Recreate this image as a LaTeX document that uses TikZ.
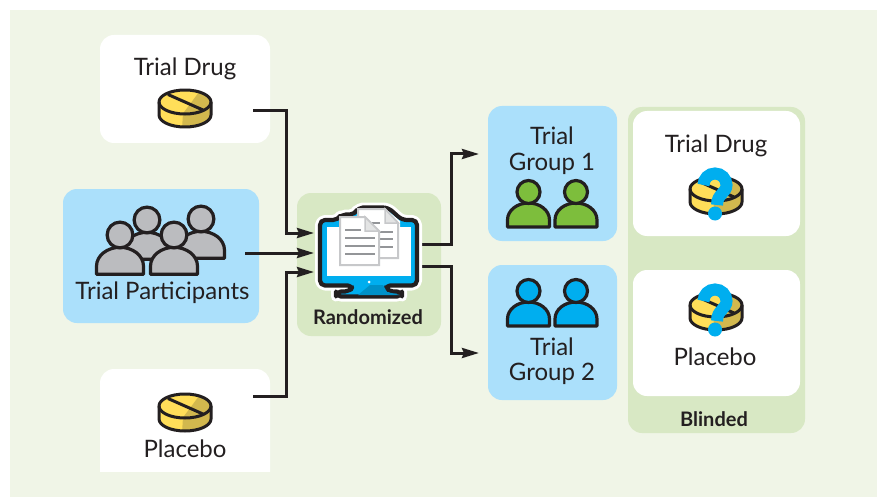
\documentclass[tikz,border=0pt]{standalone}
\usepackage{fontspec}
\setmainfont{Lato}
\usetikzlibrary{arrows.meta}
\definecolor{bgc}{HTML}{F0F5E7}
\definecolor{paleblue}{HTML}{ABE0FB}
\definecolor{palegreen}{HTML}{D8E8C4}
\definecolor{ink}{HTML}{231F20}
\definecolor{pillc}{HTML}{FFDE59}
\definecolor{pilld}{HTML}{D2B84E}
\definecolor{greyp}{HTML}{BBBCBF}
\definecolor{greenp}{HTML}{7DBE3C}
\definecolor{bluep}{HTML}{00AEEF}
\definecolor{blued}{HTML}{0091C8}
\definecolor{docline}{HTML}{939598}
\definecolor{docedge}{HTML}{C7C8CA}
\tikzset{
  panel/.style={rounded corners=14pt,inner sep=0pt,outer sep=0pt,draw=none},
  lbl/.style={font=\fontsize{24}{27}\selectfont,text=ink,anchor=base,inner sep=0pt},
  blbl/.style={font=\fontsize{20}{23}\selectfont\bfseries,text=ink,anchor=base,inner sep=0pt},
  conn/.style={draw=ink,line width=3pt,miter limit=10},
  arr/.style={conn,-{Stealth[length=17pt,width=10pt,inset=2pt]}},
  pics/pill/.style={code={
    \begin{scope}
      \clip (-26,0) -- (-26,13) arc[start angle=180,end angle=0,x radius=26,y radius=12] -- (26,0) arc[start angle=0,end angle=-180,x radius=26,y radius=12] -- cycle;
      \fill[pillc] (-28,-14) rectangle (28,27);
      \fill[pilld] (-3,27) -- (-2,11.5) -- (17,-14) -- (28,-14) -- (28,27) -- cycle;
    \end{scope}
    \draw[ink,line width=3pt] (-26,0) arc[start angle=180,end angle=0,x radius=26,y radius=12];
    \draw[ink,line width=3pt,line join=round] (-26,0) arc[start angle=180,end angle=360,x radius=26,y radius=12] -- (26,13) arc[start angle=0,end angle=180,x radius=26,y radius=12] -- cycle;
    \draw[ink,line width=3pt] (-17,-7.5) -- (18,8);
  }},
  pics/query/.style={code={
    \draw[bluep,line width=12pt] (-12.5,-4) arc[start angle=180,end angle=360,radius=11.5]
       .. controls (10.5,4) and (1,5) .. (1,16);
    \fill[bluep] (-1,24.5) circle[radius=7];
  }},
  pics/person/.style={code={
    \draw[ink,line width=3.2pt,fill=#1,line join=round]
      (-21,35) -- (-21,28) .. controls (-21,18) and (-11,11) .. (0,11)
      .. controls (11,11) and (21,18) .. (21,28) -- (21,35) -- cycle;
    \draw[ink,line width=3.2pt,fill=#1] (0,0) circle[radius=11.5];
  }},
}
\begin{document}
\begin{tikzpicture}[x=1pt,y=-1pt]
\useasboundingbox (0,0) rectangle (882,497);
\fill[white] (0,0) rectangle (882,497);
\fill[bgc] (10,10) rectangle (877,497);
% panels
\node[panel,fill=white,minimum width=170pt,minimum height=108pt] (drugbox) at (185,89) {};
\node[panel,fill=paleblue,minimum width=196pt,minimum height=134pt] (partbox) at (161,256) {};
\node[panel,fill=white,minimum width=170pt,minimum height=120pt] (placebobox) at (185,429) {};
\fill[bgc] (95,472) rectangle (275,495);
\node[panel,fill=palegreen,minimum width=144pt,minimum height=143pt] (randbox) at (369,264.5) {};
\node[panel,fill=paleblue,minimum width=129pt,minimum height=135pt] (g1box) at (552.5,173.5) {};
\node[panel,fill=paleblue,minimum width=129pt,minimum height=135pt] (g2box) at (552.5,332.5) {};
\node[panel,fill=palegreen,minimum width=177pt,minimum height=326pt] (blindbox) at (716.5,270) {};
\node[panel,fill=white,minimum width=167pt,minimum height=125pt] (bdrugbox) at (716.5,173.5) {};
\node[panel,fill=white,minimum width=167pt,minimum height=126pt] (bplacebox) at (716.5,333) {};
% connector free ends
\coordinate (drugout) at (253,111);
\coordinate (partout) at (245,253);
\coordinate (placout) at (253,396);
\coordinate (in1) at (314,233);
\coordinate (in2) at (314,253);
\coordinate (in3) at (314,272);
\coordinate (out1) at (422,244);
\coordinate (out2) at (422,266);
\coordinate (g1in) at (479,154);
\coordinate (g2in) at (479,353);
\draw[arr] (drugout) -| (286,233) -- (in1);
\draw[arr] (partout) -- (in2);
\draw[arr] (placout) -| (286,272) -- (in3);
\draw[arr] (out1) -| (451,154) -- (g1in);
\draw[arr] (out2) -| (451,353) -- (g2in);
% pills
\pic at (185,102) {pill};
\pic at (185,406) {pill};
\pic at (716,189) {pill};
\pic at (716,189) {query};
\pic at (716,305) {pill};
\pic at (716,305) {query};
% people
\pic[scale=1.12] at (147,220) {person=greyp};
\pic[scale=1.12] at (201,219) {person=greyp};
\pic[scale=1.12] at (120,235) {person=greyp};
\pic[scale=1.12] at (174,235) {person=greyp};
\pic at (528.5,192) {person=greenp};
\pic at (576,192) {person=greenp};
\pic at (528.5,291) {person=bluep};
\pic at (576,291) {person=bluep};
% monitor
\def\monitorpath{(320,220) -- (338,220) -- (341,214.5) -- (355,214.5) -- (358,207.5) -- (388,207.5) -- (402,220) -- (417,220) -- (417,285.5) -- (385,285.5) -- (388,291.5) -- (402,291.5) -- (402,296.5) -- (336,296.5) -- (336,291.5) -- (350,291.5) -- (353,285.5) -- (320,285.5) -- cycle}
\draw[white,fill=white,line width=10pt,line join=round,rounded corners=5pt] \monitorpath;
\draw[ink,fill=bluep,line width=4.2pt,line join=round,rounded corners=5pt] \monitorpath;
\fill[blued] (370,285) -- (383,285) -- (387,292) -- (400,295) -- (358,295) -- cycle;
\fill[white] (327,227) rectangle (411,276);
\fill[white] (342,217) -- (356,217) -- (360,210) -- (387,210) -- (400,221) -- (400,227) -- (342,227) -- cycle;
\fill[white] (369,282) circle[radius=1.5];
% documents
\draw[docedge,fill=white,line width=2pt] (358,209) -- (385,209) -- (398,223) -- (398,258) -- (358,258) -- cycle;
\filldraw[draw=docedge,fill=docedge!50,line width=1.5pt] (385,209) -- (385,223) -- (398,223) -- cycle;
\foreach \y/\xb in {223/380,232/393,239/393,247/393}
  \draw[docline,line width=2.6pt] (372,\y) -- (\xb,\y);
\draw[docedge,fill=white,line width=2pt] (340,217) -- (365,217) -- (379,231) -- (379,265) -- (340,265) -- cycle;
\filldraw[draw=docedge,fill=docedge!50,line width=1.5pt] (365,217) -- (365,231) -- (379,231) -- cycle;
\foreach \y/\xb in {230/361,238/375,246/375,254/375}
  \draw[docline,line width=2.6pt] (345,\y) -- (\xb,\y);
% labels
\node[lbl] (t1) at (185,76) {Trial Drug};
\node[lbl] (t2) at (162.5,299) {Trial Participants};
\node[lbl] (t3) at (185,457) {Placebo};
\node[blbl] (t4) at (368,324.5) {Randomized};
\node[lbl] (t5) at (552,145) {Trial};
\node[lbl] (t6) at (552,171) {Group 1};
\node[lbl] (t7) at (552,355) {Trial};
\node[lbl] (t8) at (552,380) {Group 2};
\node[lbl] (t9) at (716,153) {Trial Drug};
\node[lbl] (t10) at (715,365) {Placebo};
\node[blbl] (t11) at (714,426) {Blinded};
\end{tikzpicture}
\end{document}
